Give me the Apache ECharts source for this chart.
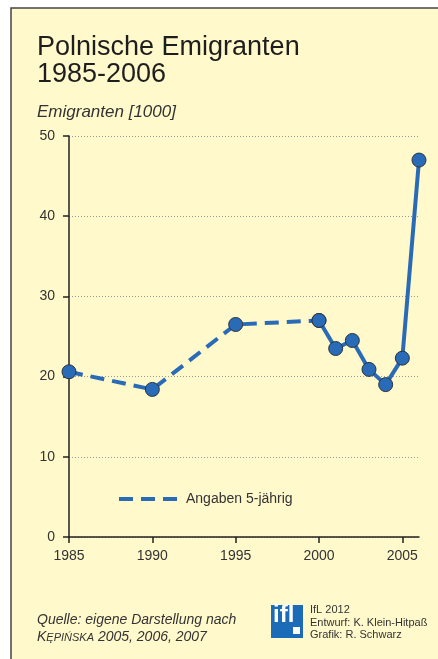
<!DOCTYPE html>
<html>
<head>
<meta charset="utf-8">
<script src="https://cdn.jsdelivr.net/npm/echarts@6/dist/echarts.min.js"></script>
<style>
html, body { margin: 0; padding: 0; background: #fff; }
#chartDiv { width: 438px; height: 659px; }
</style>
</head>
<body>
<div id="chartDiv"></div>
<script>
// Jahre und Werte (in 1000)
var years5 = [1985, 1990, 1995, 2000];
var values5 = [20.6, 18.4, 26.5, 27.0];
var yearsAnnual = [2000, 2001, 2002, 2003, 2004, 2005, 2006];
var valuesAnnual = [27.0, 23.5, 24.5, 20.9, 19.0, 22.3, 47.0];
var xTicks = [1985, 1990, 1995, 2000, 2005];
var yTicks = [0, 10, 20, 30, 40, 50];

function pairs(xs, ys) {
	var out = [];
	for (var i = 0; i < xs.length; i++) out.push([xs[i], ys[i]]);
	return out;
}

var blue = '#2a6bb7';
var font = '"Liberation Sans", Arial, sans-serif';

var chart = echarts.init(document.getElementById('chartDiv'));

var option = {
	animation: false,
	textStyle: { fontFamily: font },
	graphic: [
		{
			type: 'rect', z: -10,
			shape: { x: 11, y: 8, width: 440, height: 660 },
			style: { fill: '#fff9cb', stroke: '#444', lineWidth: 1.5 }
		},
		{
			type: 'text', left: 37, top: 34,
			style: { text: 'Polnische Emigranten\n1985-2006', font: '27px ' + font, fill: '#1e1e1e', lineHeight: 27 }
		},
		{
			type: 'text', left: 37, top: 104,
			style: { text: 'Emigranten [1000]', font: 'italic 17px ' + font, fill: '#333' }
		},
		{
			type: 'text', left: 37, top: 612,
			style: {
				rich: {
					it: { font: 'italic 14px ' + font, fill: '#333' },
					sc: { font: 'italic 11px ' + font, fill: '#333' }
				},
				text: '{it|Quelle: eigene Darstellung nach}\n{it|K}{sc|ĘPIŃSKA}{it| 2005, 2006, 2007}',
				lineHeight: 17
			}
		},
		{
			type: 'rect',
			shape: { x: 271, y: 605, width: 32, height: 33 },
			style: { fill: '#1b6bb8' }
		},
		{
			type: 'text', left: 273, top: 603,
			style: { text: 'ifl', font: 'bold 24px ' + font, fill: '#fff' }
		},
		{
			type: 'rect',
			shape: { x: 293, y: 627, width: 7, height: 7 },
			style: { fill: '#fff' }
		},
		{
			type: 'text', left: 310, top: 604,
			style: { text: 'IfL 2012\nEntwurf: K. Klein-Hitpaß\nGrafik: R. Schwarz', font: '11px ' + font, fill: '#333', lineHeight: 12.5 }
		}
	],
	legend: {
		left: 112, top: 487,
		itemWidth: 62, itemHeight: 14, itemGap: 6,
		textStyle: { fontSize: 14, color: '#333', fontFamily: font },
		itemStyle: { opacity: 0 },
		lineStyle: { width: 4, type: [14, 8], color: blue },
		data: ['Angaben 5-jährig']
	},
	grid: { left: 69, right: 19, top: 136, bottom: 122 },
	xAxis: {
		type: 'value', min: 1985, max: 2006, interval: 5,
		axisLine: { lineStyle: { color: '#222', width: 1.5 } },
		axisTick: { length: 6, customValues: xTicks, lineStyle: { color: '#222', width: 1.5 } },
		axisLabel: {
			customValues: xTicks, fontSize: 14, color: '#333', margin: 12,
			formatter: function (v) { return String(v); }
		},
		splitLine: { show: false }
	},
	yAxis: {
		type: 'value', min: 0, max: 50, interval: 10,
		axisLine: { show: true, lineStyle: { color: '#222', width: 1.5 } },
		axisTick: { show: true, length: 6, lineStyle: { color: '#222', width: 1.5 } },
		axisLabel: { fontSize: 14, color: '#333', margin: 14 },
		splitLine: { lineStyle: { color: '#999', type: [1, 2], width: 1 } }
	},
	series: [
		{
			name: 'Angaben 5-jährig',
			type: 'line',
			data: pairs(years5, values5),
			symbol: 'circle', symbolSize: 14,
			lineStyle: { color: blue, width: 4, type: [14, 8] },
			itemStyle: { color: blue, borderColor: '#2b3440', borderWidth: 1 },
			z: 3
		},
		{
			name: 'jährlich',
			type: 'line',
			data: pairs(yearsAnnual, valuesAnnual),
			symbol: 'circle', symbolSize: 14,
			lineStyle: { color: blue, width: 4 },
			itemStyle: { color: blue, borderColor: '#2b3440', borderWidth: 1 },
			z: 3
		}
	]
};

chart.setOption(option);
</script>
</body>
</html>
